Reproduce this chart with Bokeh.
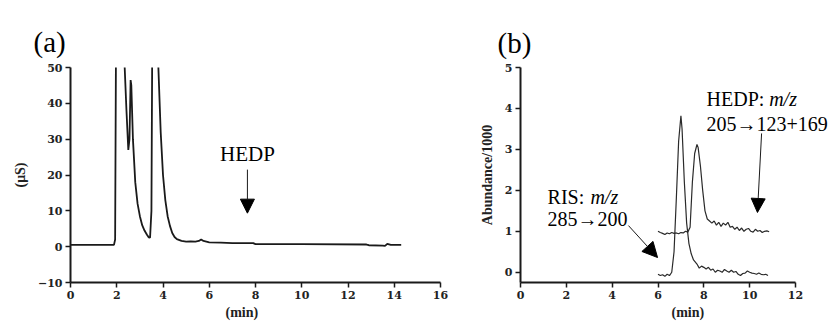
from bokeh.plotting import figure
from bokeh.layouts import row
from bokeh.models import Range1d, FixedTicker, Label, Arrow, NormalHead, Title
from bokeh.embed import file_html
from bokeh.resources import INLINE

# ---------------- data: panel (a) conductivity chromatogram ----------------
a_time = [0.0, 1.88, 1.93, 1.97, 2.2, 2.34, 2.42, 2.5, 2.55, 2.6, 2.63, 2.7, 2.8, 2.9, 3.0,
          3.1, 3.2, 3.3, 3.38, 3.44, 3.5, 3.53, 3.6, 3.75, 3.8, 3.9, 4.0, 4.1, 4.2, 4.3,
          4.4, 4.5, 4.6, 4.8, 5.0, 5.2, 5.4, 5.55, 5.65, 5.75, 6.0, 6.5, 7.0, 7.9, 8.0,
          10.0, 12.8, 12.9, 13.5, 13.6, 13.7, 13.85, 14.3]
a_signal = [0.5, 0.5, 2.0, 60.0, 120.0, 50.5, 38.0, 27.0, 30.0, 46.5, 45.0, 30.0, 18.0, 12.0, 8.5,
            6.0, 4.5, 3.4, 2.6, 2.5, 10.0, 50.0, 90.0, 90.0, 50.0, 32.0, 20.0, 13.0, 8.5, 5.8,
            3.8, 2.7, 2.1, 1.6, 1.4, 1.5, 1.4, 1.6, 2.0, 1.6, 1.2, 1.1, 1.0, 1.0, 0.7,
            0.7, 0.6, 0.4, 0.3, 0.2, 0.8, 0.5, 0.5]

a_xticks = [0, 2, 4, 6, 8, 10, 12, 14, 16]
a_yticks = [-10, 0, 10, 20, 30, 40, 50]

# ---------------- data: panel (b) MS/MS traces ----------------
ris_time = [6.0, 6.1, 6.2, 6.3, 6.4, 6.5, 6.6, 6.7, 6.8, 6.9, 7.0, 7.05, 7.15, 7.25, 7.35,
            7.45, 7.55, 7.7, 7.8, 7.9, 8.0, 8.1, 8.2, 8.3, 8.4, 8.5, 8.6, 8.7, 8.8, 8.9,
            9.0, 9.1, 9.2, 9.3, 9.4, 9.5, 9.6, 9.7, 9.8, 9.9, 10.0, 10.1, 10.2, 10.3,
            10.4, 10.5, 10.6, 10.7, 10.8]
ris_abund = [-0.05, -0.08, -0.06, -0.1, -0.05, -0.08, 0.0, 0.5, 1.8, 3.2, 3.82, 3.5, 2.2, 1.2, 0.7,
             0.45, 0.3, 0.2, 0.1, 0.15, 0.12, 0.08, 0.12, 0.05, 0.08, 0.0, 0.05, 0.03, 0.0, 0.07,
             0.03, 0.0, 0.05, 0.0, 0.02, -0.05, -0.08, -0.03, -0.02, 0.03, 0.0, -0.02, -0.03, -0.05,
             -0.02, -0.05, -0.06, -0.05, -0.08]

hedp_time = [6.0, 6.1, 6.2, 6.3, 6.4, 6.5, 6.6, 6.7, 6.8, 6.9, 7.0, 7.1, 7.2, 7.3, 7.4,
             7.5, 7.6, 7.7, 7.75, 7.85, 7.95, 8.05, 8.15, 8.25, 8.35, 8.45, 8.55, 8.65, 8.75,
             8.85, 8.95, 9.05, 9.15, 9.25, 9.35, 9.45, 9.55, 9.65, 9.75, 9.85, 9.95, 10.05,
             10.15, 10.25, 10.35, 10.45, 10.55, 10.65, 10.75, 10.85]
hedp_abund = [1.0, 0.97, 0.95, 0.92, 0.96, 0.94, 0.97, 0.95, 0.96, 0.94, 0.97, 0.96, 1.0, 0.98, 1.1,
              2.2, 2.9, 3.12, 3.05, 2.6, 2.0, 1.5, 1.3, 1.25, 1.2, 1.25, 1.15, 1.22, 1.12,
              1.2, 1.15, 1.22, 1.1, 1.12, 1.05, 1.1, 1.02, 1.08, 1.0, 1.05, 1.07, 1.0,
              0.98, 1.05, 1.0, 1.02, 0.97, 1.0, 1.01, 0.99]

b_xticks = [0, 2, 4, 6, 8, 10, 12]
b_yticks = [0, 1, 2, 3, 4, 5]

SERIF = "Liberation Serif"
TICKFONT = "DejaVu Serif"
INK = "#1a1a1a"
LABEL_INK = "#222222"


def style_axes(p, xticks, yticks):
    p.xgrid.visible = False
    p.ygrid.visible = False
    p.outline_line_color = None
    p.xaxis.ticker = FixedTicker(ticks=xticks)
    p.yaxis.ticker = FixedTicker(ticks=yticks)
    for ax in (p.xaxis[0], p.yaxis[0]):
        ax.axis_line_width = 2
        ax.axis_line_color = INK
        ax.major_tick_line_width = 1.5
        ax.major_tick_line_color = INK
        ax.major_tick_out = 5
        ax.major_tick_in = 0
        ax.minor_tick_line_color = None
        ax.major_label_text_font = TICKFONT
        ax.major_label_text_font_style = "bold"
        ax.major_label_text_font_size = "11px"
        ax.major_label_text_color = LABEL_INK
        ax.major_label_standoff = 3


def add_y_title(p, text, offset, standoff):
    p.add_layout(Title(text=text, align="center", offset=offset, standoff=standoff,
                       text_font=SERIF, text_font_style="bold", text_font_size="14px",
                       text_color=LABEL_INK), "left")


def add_min_title(p, offset):
    p.add_layout(Title(text="(min)", align="left", offset=offset, standoff=2,
                       text_font=SERIF, text_font_style="bold", text_font_size="14px",
                       text_color=LABEL_INK), "below")


def add_panel_title(p, text, offset, standoff):
    p.add_layout(Title(text=text, align="left", offset=offset, standoff=standoff,
                       text_font=SERIF, text_font_style="normal", text_font_size="29px",
                       text_color="black"), "above")


# ---------------- panel (a) ----------------
pa = figure(width=470, height=322, output_backend="svg", toolbar_location=None,
            x_range=Range1d(0, 16), y_range=Range1d(-10, 50),
            min_border_left=70, min_border_right=30, min_border_top=65, min_border_bottom=40,
            background_fill_color="white", border_fill_color="white")
style_axes(pa, a_xticks, a_yticks)
pa.line(a_time, a_signal, line_color=INK, line_width=1.8)
add_panel_title(pa, "(a)", -37, 20)
add_min_title(pa, 155)
add_y_title(pa, "(μS)", 12, 13)

pa.add_layout(Label(x=7.65, y=25.9, text="HEDP", text_font=SERIF, text_font_size="21px",
                    text_align="center", text_baseline="alphabetic", text_color="black"))
pa.add_layout(Arrow(x_start=7.65, y_start=21.5, x_end=7.65, y_end=9.35, line_color=INK,
                    line_width=1,
                    end=NormalHead(size=14, fill_color="black", line_color="black")))

# ---------------- panel (b) ----------------
# frame reaches the right edge so the annotation text is not clipped; axis stops at 12
pb = figure(width=363, height=322, output_backend="svg", toolbar_location=None,
            x_range=Range1d(0, 13.658), y_range=Range1d(-0.25, 5),
            min_border_left=50, min_border_right=0, min_border_top=67, min_border_bottom=40,
            background_fill_color="white", border_fill_color="white")
style_axes(pb, b_xticks, b_yticks)
pb.xaxis.bounds = (0, 12)
pb.line(ris_time, ris_abund, line_color="#2a2a2a", line_width=1.2)
pb.line(hedp_time, hedp_abund, line_color="#2a2a2a", line_width=1.2)
add_panel_title(pb, "(b)", -23, 18)
add_min_title(pb, 151)
add_y_title(pb, "Abundance/1000", 0, 14)

# HEDP annotation
pb.add_layout(Label(x=8.12, y=4.24, text="HEDP:", text_font=SERIF, text_font_size="20px",
                    text_align="left", text_baseline="alphabetic", text_color="black"))
pb.add_layout(Label(x=10.85, y=4.24, text="m/z", text_font=SERIF, text_font_size="20px",
                    text_font_style="italic", text_align="left", text_baseline="alphabetic",
                    text_color="black"))
pb.add_layout(Label(x=8.12, y=3.63, text="205→123+169", text_font=SERIF, text_font_size="20px",
                    text_align="left", text_baseline="alphabetic", text_color="black"))
pb.add_layout(Arrow(x_start=10.52, y_start=3.39, x_end=10.34, y_end=1.46, line_color=INK,
                    line_width=1,
                    end=NormalHead(size=14, fill_color="black", line_color="black")))

# RIS annotation
pb.add_layout(Label(x=1.18, y=1.83, text="RIS:", text_font=SERIF, text_font_size="20px",
                    text_align="left", text_baseline="alphabetic", text_color="black"))
pb.add_layout(Label(x=3.05, y=1.83, text="m/z", text_font=SERIF, text_font_size="20px",
                    text_font_style="italic", text_align="left", text_baseline="alphabetic",
                    text_color="black"))
pb.add_layout(Label(x=1.18, y=1.31, text="285→200", text_font=SERIF, text_font_size="20px",
                    text_align="left", text_baseline="alphabetic", text_color="black"))
pb.add_layout(Arrow(x_start=4.71, y_start=1.14, x_end=5.98, y_end=0.36, line_color=INK,
                    line_width=1,
                    end=NormalHead(size=15, fill_color="black", line_color="black")))

layout = row(pa, pb)
open("out.html", "w").write(file_html(layout, INLINE))
